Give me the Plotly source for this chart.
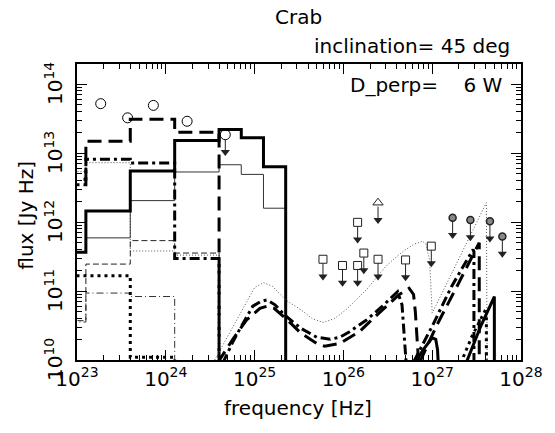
import numpy as np
import plotly.graph_objects as go

# ---------------- data (log10 values) ----------------
# histogram bin edges, log10(frequency / Hz)
BIN_EDGES = [22.6, 23.1, 23.6, 24.1, 24.6, 24.85, 25.1, 25.35]
# log10(flux / Jy Hz) per bin; None = no emission in that bin
HEAVY_SOLID = [11.56, 12.16, 12.74, 13.18, 13.34, 13.22, 12.80]
THIN_SOLID = [11.56, 11.77, 12.31, 12.725, 12.83, 12.69, 12.20]
HEAVY_DASH = [12.62, 13.17, 13.49, 13.30, None, None, None]
THIN_DASH = [10.57, 11.39, 11.73, 11.55, None, None, None]
HEAVY_DASHDOT = [12.54, 12.91, 12.855, 11.47, None, None, None]
THIN_DASHDOT = [10.55, 10.97, 10.92, None, None, None, None]
HEAVY_DOT = [11.22, 11.22, 10.04, None, None, None, None]
THIN_DOT = [12.73, 12.86, 11.58, 11.52, None, None, None]

# smooth model curves (log10 freq, log10 flux)
CURVE_THIN_DOT_X = [24.55, 24.7, 24.85, 25.0, 25.1, 25.2, 25.35, 25.52, 25.65, 25.77,
                    25.9, 26.03, 26.15, 26.26, 26.37, 26.48, 26.6, 26.7, 26.8, 26.89,
                    26.93, 26.97, 27.0, 27.61, 27.62]
CURVE_THIN_DOT_Y = [10.0, 10.35, 10.72, 11.05, 11.12, 11.07, 10.87, 10.73, 10.6, 10.545,
                    10.6, 10.73, 10.88, 11.02, 11.19, 11.36, 11.5, 11.6, 11.68, 11.72,
                    11.68, 11.45, 10.68, 12.28, 9.5]

CURVE_HEAVY_DASHDOT_X = [24.64, 24.75, 24.83, 24.98, 25.07, 25.14, 25.23, 25.33, 25.52,
                         25.70, 25.85, 25.96, 26.07, 26.26, 26.44, 26.61, 26.66, 26.68, 26.71]
CURVE_HEAVY_DASHDOT_Y = [9.95, 10.25, 10.44, 10.78, 10.85, 10.87, 10.8, 10.66, 10.46,
                         10.33, 10.30, 10.33, 10.41, 10.58, 10.78, 10.99, 10.80, 10.46, 9.9]
CURVE_HEAVY_DASHDOT2_X = [26.79, 27.0, 27.22, 27.46, 27.47, 27.47]
CURVE_HEAVY_DASHDOT2_Y = [9.97, 10.49, 11.07, 11.60, 11.57, 9.9]

CURVE_HEAVY_DASH_X = [24.58, 24.76, 24.91, 25.06, 25.14, 25.22, 25.37, 25.52, 25.70, 25.79,
                      25.96, 26.18, 26.40, 26.63, 26.74, 26.79, 26.81, 26.83, 26.85]
CURVE_HEAVY_DASH_Y = [9.95, 10.31, 10.58, 10.75, 10.78, 10.75, 10.58, 10.39, 10.24, 10.20,
                      10.24, 10.41, 10.68, 10.95, 11.04, 10.95, 10.70, 10.36, 9.9]
CURVE_HEAVY_DASH2_X = [26.86, 27.05, 27.3, 27.53, 27.53]
CURVE_HEAVY_DASH2_Y = [9.97, 10.5, 11.12, 11.70, 9.9]

CURVE_HEAVY_SOLID_X = [26.80, 26.9, 27.0, 27.04, 27.06, 27.07]
CURVE_HEAVY_SOLID_Y = [9.95, 10.15, 10.32, 10.30, 10.15, 9.9]
CURVE_HEAVY_SOLID2_X = [27.38, 27.55, 27.70, 27.70]
CURVE_HEAVY_SOLID2_Y = [9.95, 10.5, 10.92, 9.9]

CURVE_HEAVY_DOT_X = [27.32, 27.45, 27.61, 27.61]
CURVE_HEAVY_DOT_Y = [9.95, 10.35, 10.75, 9.9]

# observations
OPEN_CIRCLE_X = [23.267, 23.57, 23.86, 24.24]
OPEN_CIRCLE_Y = [13.715, 13.51, 13.69, 13.46]
OPEN_CIRCLE_UL_X = [24.67]
OPEN_CIRCLE_UL_Y = [13.265]
SQUARE_UL_X = [25.77, 25.99, 26.16, 26.23, 26.16, 26.39, 26.70, 26.99]
SQUARE_UL_Y = [11.46, 11.37, 11.995, 11.55, 11.37, 11.46, 11.45, 11.65]
TRIANGLE_UL_X = [26.39]
TRIANGLE_UL_Y = [12.28]
FILLED_CIRCLE_UL_X = [27.23, 27.43, 27.65, 27.79]
FILLED_CIRCLE_UL_Y = [12.06, 12.03, 12.01, 11.79]

X_TICKS = [23, 24, 25, 26, 27, 28]
Y_TICKS = [10, 11, 12, 13, 14]
X_RANGE = [23, 28]
Y_RANGE = [10, 14.29]

# ---------------- styling constants ----------------
FONT = "DejaVu Sans"
PX_PER_DEC_Y = 69.0
ARROW_DEC = 0.30        # length of upper-limit arrows in decades
FLOOR = 5.0             # log value far below the axis for "no emission"

fig = go.Figure()


def p10(v):
    return [None if a is None else 10.0 ** a for a in v]


def step_xy(edges, vals):
    xs, ys = [], []
    for i, v in enumerate(vals):
        vv = FLOOR if v is None else v
        xs += [edges[i], edges[i + 1]]
        ys += [vv, vv]
    xs.append(edges[-1])
    ys.append(FLOOR)
    return p10(xs), p10(ys)


def add_line(x, y, width, dash, color="black"):
    fig.add_trace(go.Scatter(x=x, y=y, mode="lines",
                             line=dict(color=color, width=width, dash=dash),
                             hoverinfo="skip", showlegend=False))


HEAVY_DASH_PAT = "14px,7px"
HEAVY_DASHDOT_PAT = "10px,4px,3px,4px"
HEAVY_DOT_PAT = "3px,4px"
THIN_DASH_PAT = "6px,3px"
THIN_DASHDOT_PAT = "7px,3px,1px,3px"
THIN_DOT_PAT = "1px,2px"

series = [
    (THIN_DOT, 1, THIN_DOT_PAT, "#555"),
    (THIN_DASHDOT, 1, THIN_DASHDOT_PAT, "#333"),
    (THIN_DASH, 1, THIN_DASH_PAT, "#222"),
    (THIN_SOLID, 1, "solid", "#333"),
    (HEAVY_DOT, 3, HEAVY_DOT_PAT, "black"),
    (HEAVY_DASHDOT, 3, HEAVY_DASHDOT_PAT, "black"),
    (HEAVY_DASH, 3, HEAVY_DASH_PAT, "black"),
    (HEAVY_SOLID, 3, "solid", "black"),
]
for vals, w, d, c in series:
    sx, sy = step_xy(BIN_EDGES, vals)
    add_line(sx, sy, w, d, c)

add_line(p10(CURVE_THIN_DOT_X), p10(CURVE_THIN_DOT_Y), 1, THIN_DOT_PAT, "#555")
add_line(p10(CURVE_HEAVY_DASHDOT_X), p10(CURVE_HEAVY_DASHDOT_Y), 3, HEAVY_DASHDOT_PAT)
add_line(p10(CURVE_HEAVY_DASHDOT2_X), p10(CURVE_HEAVY_DASHDOT2_Y), 3, HEAVY_DASHDOT_PAT)
add_line(p10(CURVE_HEAVY_DASH_X), p10(CURVE_HEAVY_DASH_Y), 3, HEAVY_DASH_PAT)
add_line(p10(CURVE_HEAVY_DASH2_X), p10(CURVE_HEAVY_DASH2_Y), 3, HEAVY_DASH_PAT)
add_line(p10(CURVE_HEAVY_SOLID_X), p10(CURVE_HEAVY_SOLID_Y), 3, "solid")
add_line(p10(CURVE_HEAVY_SOLID2_X), p10(CURVE_HEAVY_SOLID2_Y), 3, "solid")
add_line(p10(CURVE_HEAVY_DOT_X), p10(CURVE_HEAVY_DOT_Y), 3, HEAVY_DOT_PAT)


def add_upper_limits(xs, ys, start_px):
    lx, ly, hx, hy = [], [], [], []
    for x, y in zip(xs, ys):
        lx += [x, x, None]
        ly += [y - start_px / PX_PER_DEC_Y, y - ARROW_DEC + 3 / PX_PER_DEC_Y, None]
        hx.append(x)
        hy.append(y - ARROW_DEC + 3.5 / PX_PER_DEC_Y)
    fig.add_trace(go.Scatter(x=p10(lx), y=p10(ly),
                             mode="lines", line=dict(color="#222", width=1),
                             hoverinfo="skip", showlegend=False, connectgaps=False))
    fig.add_trace(go.Scatter(x=p10(hx), y=p10(hy), mode="markers",
                             marker=dict(symbol="triangle-down", size=8, color="#222",
                                         line=dict(width=0)),
                             hoverinfo="skip", showlegend=False))


add_upper_limits(OPEN_CIRCLE_UL_X, OPEN_CIRCLE_UL_Y, 5)
add_upper_limits(SQUARE_UL_X, SQUARE_UL_Y, 4)
add_upper_limits(TRIANGLE_UL_X, TRIANGLE_UL_Y, 4)
add_upper_limits(FILLED_CIRCLE_UL_X, FILLED_CIRCLE_UL_Y, 3)

fig.add_trace(go.Scatter(x=p10(OPEN_CIRCLE_X + OPEN_CIRCLE_UL_X),
                         y=p10(OPEN_CIRCLE_Y + OPEN_CIRCLE_UL_Y), mode="markers",
                         marker=dict(symbol="circle-open", size=10, color="black",
                                     line=dict(width=1, color="black")),
                         hoverinfo="skip", showlegend=False))
fig.add_trace(go.Scatter(x=p10(SQUARE_UL_X), y=p10(SQUARE_UL_Y), mode="markers",
                         marker=dict(symbol="square-open", size=8, color="#222",
                                     line=dict(width=1, color="#222")),
                         hoverinfo="skip", showlegend=False))
fig.add_trace(go.Scatter(x=p10(TRIANGLE_UL_X), y=p10(TRIANGLE_UL_Y), mode="markers",
                         marker=dict(symbol="triangle-up-open", size=9, color="#222",
                                     line=dict(width=1, color="#222")),
                         hoverinfo="skip", showlegend=False))
fig.add_trace(go.Scatter(x=p10(FILLED_CIRCLE_UL_X), y=p10(FILLED_CIRCLE_UL_Y), mode="markers",
                         marker=dict(symbol="circle", size=7, color="#888",
                                     line=dict(width=1.5, color="#222")),
                         hoverinfo="skip", showlegend=False))


def minor_vals(lo, hi):
    out = []
    for d in range(lo, hi):
        for m in range(2, 10):
            out.append(m * 10.0 ** d)
    return out


axis_common = dict(type="log", showgrid=False, zeroline=False, showline=True,
                   linecolor="black", linewidth=1.5, mirror="ticks",
                   ticks="inside", ticklen=10, tickwidth=1, tickcolor="black",
                   tickfont=dict(family=FONT, size=20, color="black"))

fig.update_xaxes(**axis_common, range=X_RANGE,
                 tickvals=p10(X_TICKS),
                 ticktext=[f"10<sup>{t}</sup>" for t in X_TICKS],
                 minor=dict(tickvals=minor_vals(23, 28), ticks="inside", ticklen=5,
                            tickwidth=1, tickcolor="black"))
fig.update_yaxes(**axis_common, range=Y_RANGE, showticklabels=False,
                 tickvals=p10(Y_TICKS),
                 minor=dict(tickvals=minor_vals(10, 14), ticks="inside", ticklen=5,
                            tickwidth=1, tickcolor="black"))

W, H = 555, 433
L, R, T, B = 77, 28, 64, 73


def px_to_paper(px, py):
    return (px - L) / (W - L - R), (H - B - py) / (H - T - B)


def add_text(text, px, py, xanchor="center", angle=0):
    x, y = px_to_paper(px, py)
    fig.add_annotation(text=text, x=x, y=y, xref="paper", yref="paper",
                       xanchor=xanchor, yanchor="middle", showarrow=False,
                       textangle=angle, font=dict(family=FONT, size=20, color="black"))


# rotated y tick labels, placed at each decade through the y axis scale
for t in Y_TICKS:
    fig.add_annotation(text=f"10<sup>{t}</sup>", x=0, y=t, xref="paper", yref="y",
                       xanchor="right", yanchor="middle", xshift=-9, showarrow=False,
                       textangle=-90, borderpad=0,
                       font=dict(family=FONT, size=20, color="black"))

NB = "\u00a0"
add_text("Crab", 301, 17)
add_text("inclination=" + NB + "45" + NB + "deg", 518, 46, xanchor="right")
add_text("D_perp=" + NB * 4 + "6" + NB + "W", 511, 85, xanchor="right")
add_text("frequency" + NB + "[Hz]", 301, 408)
add_text("flux" + NB + "[Jy" + NB + "Hz]", 25, 215, angle=-90)

fig.update_layout(width=W, height=H, margin=dict(l=L, r=R, t=T, b=B, pad=0),
                  paper_bgcolor="white", plot_bgcolor="white",
                  font=dict(family=FONT, size=20, color="black"),
                  showlegend=False)

fig.write_html("out.html")
